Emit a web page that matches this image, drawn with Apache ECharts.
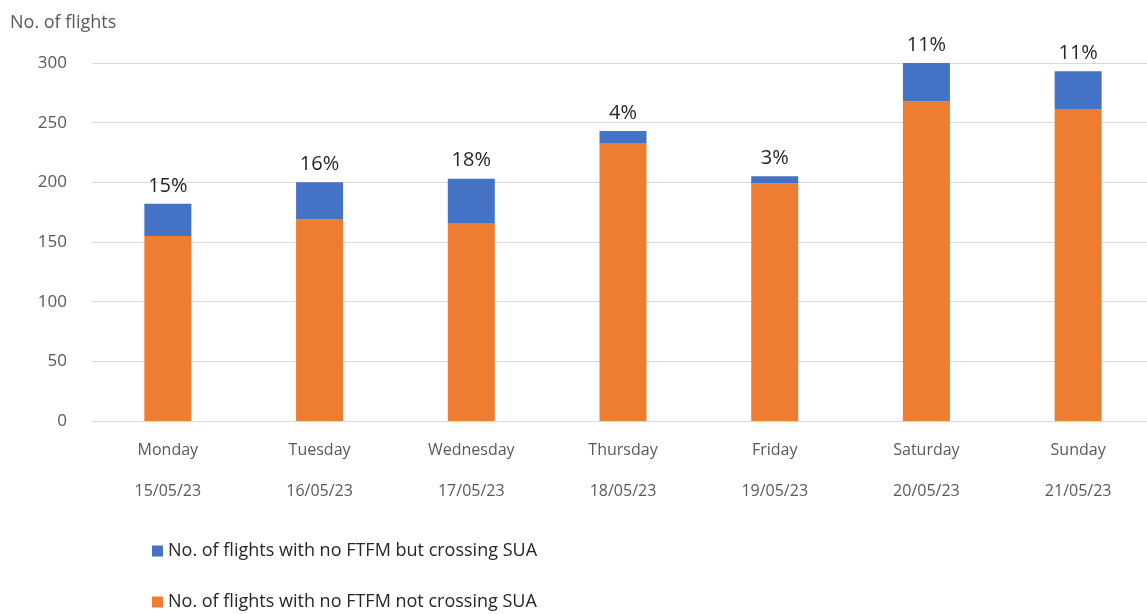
<!DOCTYPE html>
<html>
<head>
<meta charset="utf-8">
<script src="https://cdn.jsdelivr.net/npm/echarts@6/dist/echarts.min.js"></script>
<style>
  html, body { margin: 0; padding: 0; background: #fff; overflow: hidden; }
  #chart { width: 1154px; height: 614px; }
</style>
</head>
<body>
<div id="chart"></div>
<script>
const days = ['Monday', 'Tuesday', 'Wednesday', 'Thursday', 'Friday', 'Saturday', 'Sunday']
const dates = ['15/05/23', '16/05/23', '17/05/23', '18/05/23', '19/05/23', '20/05/23', '21/05/23']
const notCrossing = [155, 169, 166, 233, 199, 268, 261]
const crossing = [27, 31, 37, 10, 6, 32, 32]
const pctLabels = ['15%', '16%', '18%', '4%', '3%', '11%', '11%']
const yTicks = [0, 50, 100, 150, 200, 250, 300]

const categories = days.map((d, i) => d + '\n' + dates[i])
const font = '"Open Sans", "Noto Sans", sans-serif'

// the plot runs a few px past the right edge in the original, so the canvas is a bit wider than the window
const chart = echarts.init(document.getElementById('chart'))
chart.setOption({
  animation: false,
  textStyle: { fontFamily: font },
  grid: { left: 92, top: 63, right: 0, height: 358, containLabel: false },
  legend: {
    orient: 'vertical',
    left: 152,
    top: 542,
    height: 120,
    padding: 0,
    itemWidth: 11,
    itemHeight: 11,
    itemGap: 33,
    icon: 'rect',
    data: ['No. of flights with no FTFM but crossing SUA', 'No. of flights with no FTFM not crossing SUA'],
    textStyle: { fontSize: 18, color: '#262626', fontFamily: font }
  },
  xAxis: {
    type: 'category',
    data: categories,
    axisTick: { show: false },
    axisLine: { lineStyle: { color: '#d9d9d9', width: 1 } },
    axisLabel: {
      color: '#595959',
      fontSize: 16,
      lineHeight: 41,
      margin: 9
    }
  },
  yAxis: {
    type: 'value',
    min: yTicks[0],
    max: yTicks[yTicks.length - 1],
    interval: 50,
    name: 'No. of flights',
    nameLocation: 'end',
    nameTextStyle: { color: '#595959', fontSize: 18, align: 'left', padding: [0, 0, 16, -82] },
    axisLine: { show: false },
    axisTick: { show: false },
    axisLabel: { color: '#595959', fontSize: 17, margin: 25 },
    splitLine: { lineStyle: { color: '#d9d9d9', width: 1 } }
  },
  series: [
    {
      name: 'No. of flights with no FTFM not crossing SUA',
      type: 'bar',
      stack: 'total',
      barWidth: 47,
      itemStyle: { color: '#ed7d31' },
      data: notCrossing
    },
    {
      name: 'No. of flights with no FTFM but crossing SUA',
      type: 'bar',
      stack: 'total',
      barWidth: 47,
      itemStyle: { color: '#4472c4' },
      label: {
        show: true,
        position: 'top',
        distance: 8,
        color: '#262626',
        fontSize: 20,
        formatter: p => pctLabels[p.dataIndex]
      },
      data: crossing
    }
  ]
})
window.addEventListener('resize', function() {
  chart.resize()
})
</script>
</body>
</html>
